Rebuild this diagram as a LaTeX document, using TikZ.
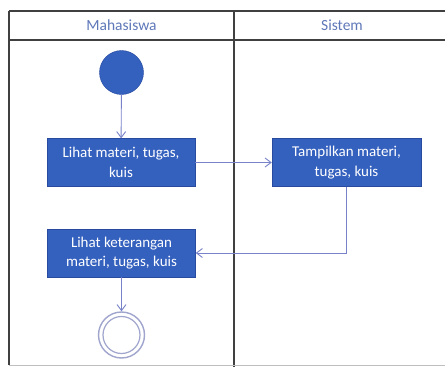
\documentclass[tikz,border=0pt]{standalone}
\usepackage{fontspec}
\setmainfont{Carlito}
\usetikzlibrary{arrows.meta}
\definecolor{actblue}{RGB}{52,96,190}
\definecolor{actedge}{RGB}{40,75,160}
\definecolor{flow}{RGB}{120,130,200}
\definecolor{hdrtext}{RGB}{95,120,185}
\definecolor{endring}{RGB}{160,165,205}
\begin{document}
\begin{tikzpicture}[x=1pt,y=-1pt,
  actbox/.style={draw=actedge,fill=actblue,text=white,minimum width=148pt,minimum height=48pt,inner sep=1pt,align=center,font=\fontsize{15}{19.5}\selectfont},
  flowarrow/.style={draw=flow,line width=0.9pt,-{Straight Barb[length=6pt,width=9pt]}},
  lane/.style={draw=black!75,line width=1.1pt},
  hdr/.style={text=hdrtext,font=\fontsize{15.5}{18}\selectfont}
]
\useasboundingbox (0,0) rectangle (445,367);
\fill[white] (0,0) rectangle (445,367);
% swimlane frame
\draw[lane] (9,11) -- (450,11);
\draw[lane] (9,40) -- (450,40);
\draw[lane] (9,11) -- (9,365);
\draw[lane] (234,11) -- (234,367);
\draw[black!25,line width=0.8pt] (9,365) -- (445,365);
\node[hdr] (h1) at (121.5,25.5) {Mahasiswa};
\node[hdr] (h2) at (342,25.5) {Sistem};
% nodes
\node[circle,fill=actblue,draw=actedge,minimum size=44pt,inner sep=0pt] (start) at (121.5,72.5) {};
\node[actbox] (a1) at (121,162.5) {Lihat materi, tugas,\\kuis};
\node[actbox,minimum width=149pt] (a2) at (346.5,162.5) {Tampilkan materi,\\tugas, kuis};
\node[actbox] (a3) at (121.5,253) {Lihat keterangan\\materi, tugas, kuis};
\node[circle,draw=endring,line width=1.4pt,minimum size=46pt,inner sep=0pt] (stop) at (121.5,335) {};
\node[circle,draw=endring,line width=1.2pt,minimum size=37pt,inner sep=0pt] (stopin) at (121.5,335) {};
% connectors
\draw[flowarrow] (start) -- (a1);
\draw[flowarrow] (a1) -- (a2);
\draw[flowarrow] (a2.south) |- (a3.east);
\draw[flowarrow] (a3) -- (stop);
\end{tikzpicture}
\end{document}
